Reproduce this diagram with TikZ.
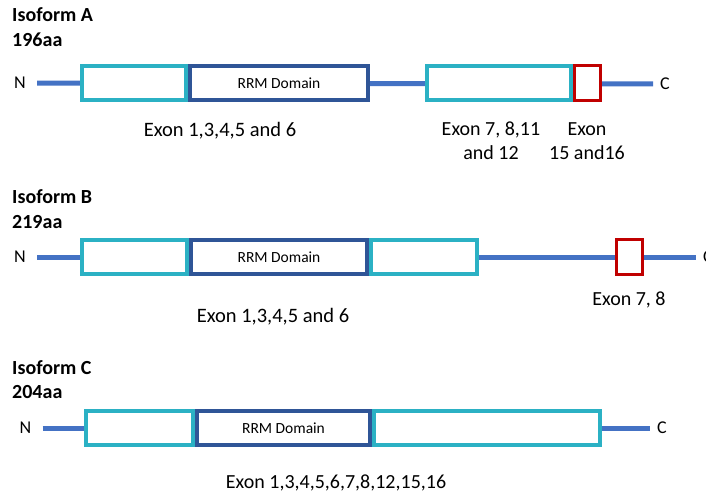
\documentclass[tikz,border=0pt]{standalone}
\usepackage{fontspec}
\setmainfont{Carlito}
\usetikzlibrary{positioning}
\definecolor{exoncyan}{HTML}{2BB1C4}
\definecolor{rrmblue}{HTML}{2F5597}
\definecolor{chainblue}{HTML}{4472C4}
\definecolor{exonred}{HTML}{C00000}

\begin{document}
\begin{tikzpicture}[x=1pt,y=-1pt,node distance=0pt,
  exon/.style={draw=exoncyan,line width=4pt,fill=white,minimum height=34pt,inner sep=0pt},
  rrm/.style={exon,draw=rrmblue,font=\fontsize{15.5}{18}\selectfont},
  redexon/.style={exon,draw=exonred,line width=3pt,minimum height=35pt},
  chain/.style={draw=chainblue,line width=5pt},
  nend/.style={font=\fontsize{18}{20}\selectfont,inner xsep=11pt},
  cend/.style={font=\fontsize{18}{20}\selectfont,inner xsep=7pt},
  title/.style={font=\bfseries\fontsize{20}{22}\selectfont,anchor=west,inner sep=0pt},
  exonlabel/.style={font=\fontsize{20}{24}\selectfont,align=center,inner sep=0pt}]
\useasboundingbox (0,0) rectangle (706,495);

% Isoform A
\node[title] (tA) at (12,15) {Isoform A};
\node[title] (aaA) at (12,40) {196aa};
\node[nend] (nA) at (20,83) {N};
\node[cend] (cA) at (665,84) {C};
\draw[chain] (nA) -- (cA);
\node[exon,minimum width=104pt] (a1) at (134,83) {};
\node[rrm,right=of a1,minimum width=178pt] (a2) {RRM Domain};
\node[exon,right=55pt of a2,minimum width=144pt] (a3) {};
\node[redexon,right=of a3,minimum width=26pt] (a4) {};
\node[exonlabel,font=\fontsize{20.5}{24}\selectfont] (lA1) at (220,131) {Exon 1,3,4,5 and 6};
\node[exonlabel] (lA2) at (491,141) {Exon 7, 8,11\\and 12};
\node[exonlabel] (lA3) at (587,141) {Exon\\15 and16};

% Isoform B
\node[title] (tB) at (12,197) {Isoform B};
\node[title] (aaB) at (12,222) {219aa};
\node[nend] (nB) at (20,257) {N};
\node[cend] (cB) at (708,257) {C};
\draw[chain] (nB) -- (cB);
\node[exon,minimum width=105pt] (b1) at (134.5,257) {};
\node[rrm,right=of b1,minimum width=176pt] (b2) {RRM Domain};
\node[exon,right=of b2,minimum width=106pt] (b3) {};
\node[redexon,right=136pt of b3,minimum width=26pt] (b4) {};
\node[exonlabel,font=\fontsize{20.5}{24}\selectfont] (lB1) at (273,317) {Exon 1,3,4,5 and 6};
\node[exonlabel] (lB2) at (629,300) {Exon 7, 8};

% Isoform C
\node[title] (tC) at (12,368) {Isoform C};
\node[title] (aaC) at (12,392) {204aa};
\node[nend] (nC) at (25.5,428) {N};
\node[cend] (cC) at (662,428) {C};
\draw[chain] (nC) -- (cC);
\node[exon,minimum width=107pt] (c1) at (139.5,428) {};
\node[rrm,right=of c1,minimum width=173pt] (c2) {RRM Domain};
\node[exon,right=of c2,minimum width=226pt] (c3) {};
\node[exonlabel] (lC1) at (336,483) {Exon 1,3,4,5,6,7,8,12,15,16};
\end{tikzpicture}
\end{document}
